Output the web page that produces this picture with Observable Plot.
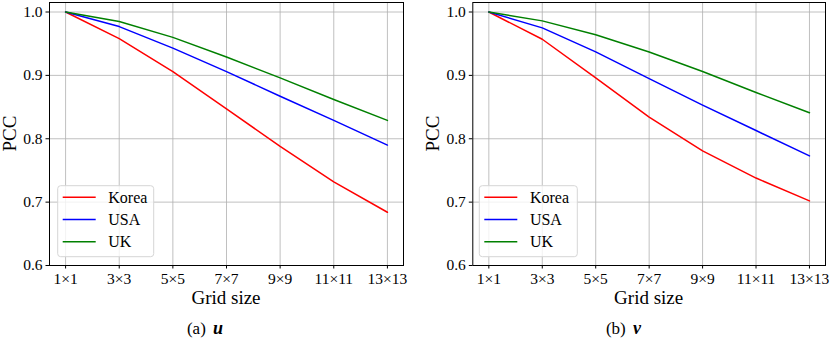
<!DOCTYPE html>
<html><head><meta charset="utf-8">
<script src="https://cdn.jsdelivr.net/npm/d3@7"></script>
<script src="https://cdn.jsdelivr.net/npm/@observablehq/plot@0.6"></script>
<style>
body{margin:0;background:#fff;}
#wrap{display:flex;width:830px;height:338px;}
</style></head>
<body><div id="wrap"></div>
<script>
const gridLabels = ["1×1","3×3","5×5","7×7","9×9","11×11","13×13"];
const seriesNames = ["Korea","USA","UK"];
const seriesColors = ["#ff0000","#0000ff","#008000"];
const yTicks = [0.6,0.7,0.8,0.9,1.0];

const uKorea = [1.000,0.958,0.906,0.847,0.788,0.732,0.684];
const uUSA   = [1.000,0.977,0.943,0.906,0.867,0.829,0.790];
const uUK    = [1.000,0.985,0.960,0.929,0.896,0.862,0.829];

const vKorea = [1.000,0.957,0.896,0.834,0.781,0.738,0.702];
const vUSA   = [1.000,0.975,0.937,0.895,0.853,0.813,0.773];
const vUK    = [1.000,0.986,0.964,0.937,0.906,0.873,0.841];

const panels = [
  {ml:49, mr:12, cap:"(a) ", v:"u", vals:[uKorea,uUSA,uUK], legW:96, legOff:8.7, capC:205},
  {ml:57.3, mr:5, cap:"(b) ", v:"v", vals:[vKorea,vUSA,vUK], legW:98, legOff:7, capC:208.5}
];

const wrap = document.getElementById("wrap");
const font = "Times New Roman";

panels.forEach(p => {
  const data = [];
  p.vals.forEach((arr, si) => arr.forEach((val, i) => data.push({i, val, s: seriesNames[si]})));

  const overlay = (index, scales, values, dims) => {
    const g = d3.create("svg:g").attr("font-family", font).attr("fill", "#000").attr("text-anchor", "start");
    const fl = dims.marginLeft, fb = dims.height - dims.marginBottom;
    const fw = dims.width - dims.marginLeft - dims.marginRight;
    const cx = fl + fw / 2;
    const lx = fl + p.legOff, ly = fb - 79.3;
    g.append("rect").attr("x", lx).attr("y", ly).attr("width", p.legW).attr("height", 71)
      .attr("rx", 3).attr("fill", "#fff").attr("fill-opacity", 0.8).attr("stroke", "#d6d6d6").attr("stroke-width", 1);
    seriesNames.forEach((name, k) => {
      const yy = ly + 11.6 + k * 22.2;
      g.append("line").attr("x1", lx + 5).attr("x2", lx + 38).attr("y1", yy).attr("y2", yy)
        .attr("stroke", seriesColors[k]).attr("stroke-width", 1.5);
      g.append("text").attr("x", lx + 50.6).attr("y", yy).attr("dy", "0.35em").attr("text-anchor", "start")
        .attr("font-size", 16).text(name);
    });
    g.append("text").attr("x", cx).attr("y", fb + 39).attr("text-anchor", "middle")
      .attr("font-size", 19).text("Grid size");
    g.append("text").attr("transform", `translate(${fl - 39.5},${(dims.marginTop + fb) / 2}) rotate(-90)`)
      .attr("dy", "0.35em").attr("text-anchor", "middle").attr("font-size", 19).text("PCC");
    const t = g.append("text").attr("x", p.capC).attr("y", 334).attr("text-anchor", "middle")
      .attr("font-size", 17).attr("xml:space", "preserve").style("white-space", "pre");
    t.append("tspan").text(p.cap);
    t.append("tspan").attr("dx", 3).attr("font-size", 18).attr("font-style", "italic").attr("font-weight", "bold").text(p.v);
    return g.node();
  };

  const chart = Plot.plot({
    width: 415, height: 338,
    marginLeft: p.ml, marginRight: p.mr, marginTop: 2, marginBottom: 73,
    style: {fontFamily: font, fontSize: "15.5px", color: "#000", background: "#fff", overflow: "visible"},
    x: {type: "linear", domain: [-0.3, 6.3]},
    y: {domain: [0.6, 1.015]},
    color: {domain: seriesNames, range: seriesColors},
    marks: [
      Plot.gridX(d3.range(gridLabels.length), {stroke: "#b0b0b0", strokeOpacity: 1, strokeWidth: 0.8}),
      Plot.gridY(yTicks, {stroke: "#b0b0b0", strokeOpacity: 1, strokeWidth: 0.8}),
      Plot.line(data, {x: "i", y: "val", z: "s", stroke: "s", strokeWidth: 1.5}),
      Plot.frame({stroke: "#000", strokeWidth: 1}),
      Plot.axisX(d3.range(gridLabels.length), {tickFormat: i => gridLabels[i], tickSize: 3.5, tickPadding: 4, label: null, fontSize: 15.5, fontFamily: font}),
      Plot.axisY(yTicks, {tickFormat: d3.format(".1f"), tickSize: 3.5, tickPadding: 3.5, label: null, fontSize: 15.5, fontFamily: font}),
      overlay
    ]
  });
  wrap.appendChild(chart);
});
</script></body></html>
